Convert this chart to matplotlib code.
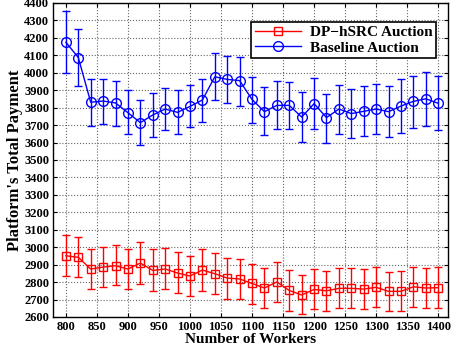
import numpy as np
import matplotlib
matplotlib.use("Agg")
import matplotlib.pyplot as plt

plt.rcParams['font.family'] = ['Liberation Serif', 'DejaVu Serif']
plt.rcParams['font.weight'] = 'bold'

workers = list(range(800, 1401, 20))

# DP-hSRC auction: mean, lower and upper ends of the error bars
dp_mean = [2951, 2942, 2875, 2886, 2894, 2875, 2909, 2867, 2875, 2852,
           2835, 2869, 2848, 2823, 2818, 2792, 2766, 2801, 2752, 2726,
           2758, 2750, 2764, 2764, 2760, 2770, 2747, 2747, 2773, 2766, 2768]
dp_low = [2833, 2827, 2762, 2773, 2781, 2762, 2791, 2747, 2758, 2737,
          2720, 2747, 2729, 2705, 2701, 2676, 2653, 2684, 2636, 2615,
          2644, 2632, 2653, 2653, 2646, 2657, 2632, 2632, 2658, 2650, 2653]
dp_high = [3071, 3060, 2988, 3001, 3014, 2988, 3028, 2988, 2996, 2973,
           2950, 2988, 2965, 2937, 2935, 2905, 2881, 2915, 2867, 2842,
           2875, 2862, 2879, 2881, 2873, 2884, 2860, 2863, 2888, 2879, 2884]

# Baseline auction
base_mean = [4175, 4087, 3831, 3838, 3827, 3771, 3714, 3758, 3792, 3773,
             3807, 3844, 3977, 3962, 3955, 3847, 3777, 3813, 3813, 3746,
             3823, 3743, 3792, 3766, 3779, 3792, 3777, 3809, 3836, 3851, 3825]
base_low = [3997, 3922, 3696, 3708, 3695, 3647, 3588, 3632, 3670, 3647,
            3687, 3718, 3844, 3827, 3809, 3712, 3643, 3677, 3675, 3603,
            3680, 3597, 3647, 3626, 3635, 3647, 3630, 3655, 3681, 3696, 3674]
base_high = [4354, 4249, 3966, 3966, 3955, 3899, 3844, 3884, 3914, 3899,
             3932, 3966, 4111, 4096, 4093, 3977, 3916, 3953, 3949, 3892,
             3970, 3878, 3932, 3909, 3922, 3936, 3922, 3962, 3983, 4003, 3980]

x = np.array(workers)
dm, bm = np.array(dp_mean), np.array(base_mean)
dp_err = [dm - np.array(dp_low), np.array(dp_high) - dm]
base_err = [bm - np.array(base_low), np.array(base_high) - bm]

fig = plt.figure(figsize=(4.51, 3.56), dpi=100)
ax = fig.add_axes([0.1186, 0.1096, 0.875, 0.882])

# error bars first, then the lines with markers (legend shows only these)
ax.errorbar(x, dm, yerr=dp_err, fmt='none', ecolor='red', capsize=3, elinewidth=1)
ax.errorbar(x, bm, yerr=base_err, fmt='none', ecolor='blue', capsize=3, elinewidth=1)
ax.plot(x, dm, color='red', marker='s', markersize=6, markerfacecolor='none',
        markeredgewidth=1, linewidth=1, label='DP\u2212hSRC Auction')
ax.plot(x, bm, color='blue', marker='o', markersize=7, markerfacecolor='none',
        markeredgewidth=1, linewidth=1, label='Baseline Auction')

ax.set_xlim(780, 1416)
ax.set_ylim(2600, 4400)
ax.set_xticks(range(800, 1401, 50))
ax.set_yticks(range(2600, 4401, 100))
ax.tick_params(direction='in', top=True, right=True, labelsize=9, length=3, pad=3)
for lab in ax.get_xticklabels() + ax.get_yticklabels():
    lab.set_fontweight('bold')
ax.grid(True, linestyle=':', color='0.4', linewidth=0.8)
for sp in ax.spines.values():
    sp.set_linewidth(1)

ax.set_xlabel('Number of Workers', fontsize=11, fontweight='bold', labelpad=0)
ax.set_ylabel("Platform's Total Payment", fontsize=12, fontweight='bold', labelpad=1)

leg = ax.legend(loc='upper right', bbox_to_anchor=(0.97, 0.94), borderaxespad=0,
                fontsize=11, fancybox=False, edgecolor='black', framealpha=1,
                handlelength=3, borderpad=0.25, labelspacing=0.1, handletextpad=0.6)
leg.get_frame().set_linewidth(1.2)

fig.savefig('out.png', dpi=100)
